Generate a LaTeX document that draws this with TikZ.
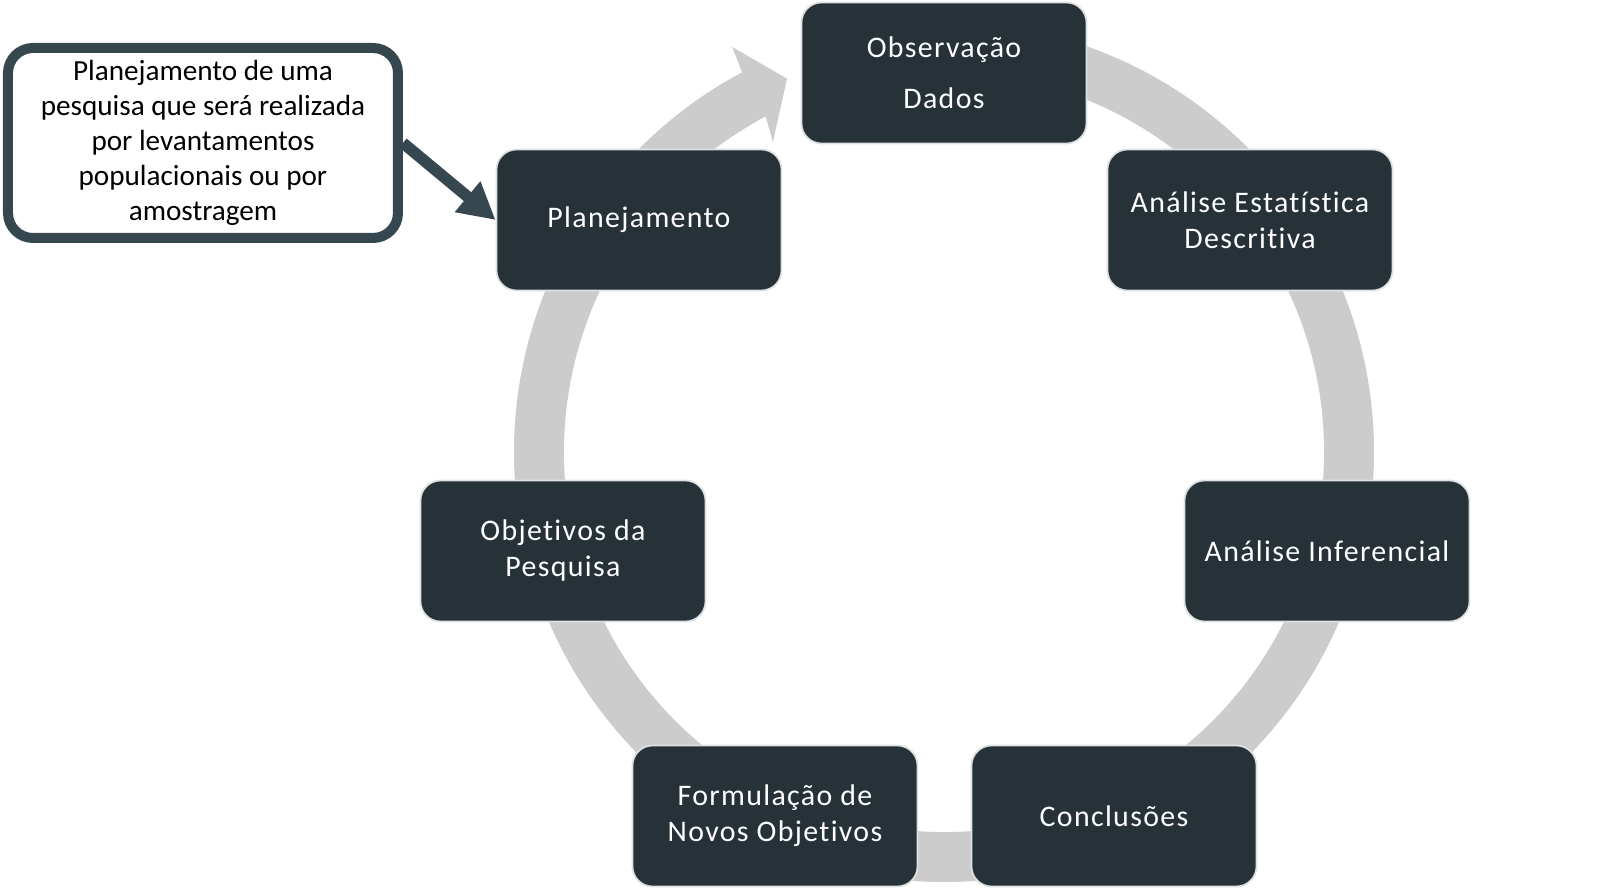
\documentclass[tikz,border=0pt]{standalone}
\usepackage{fontspec}
\setmainfont{Carlito}[Ligatures=NoCommon]
\newfontfamily\stagefont{Carlito}[LetterSpace=4.5, Ligatures=NoCommon]
\usetikzlibrary{arrows.meta,calc}
\definecolor{stagefill}{HTML}{263238}
\definecolor{noteline}{HTML}{37474F}
\definecolor{ringgray}{HTML}{CCCCCC}
\tikzset{
  stage/.style={rectangle, rounded corners=0.4cm, fill=stagefill, draw=white!85!stagefill,
    line width=1pt, minimum width=5.7cm, minimum height=2.82cm, text=white,
    align=center, font=\stagefont\fontsize{17}{20.5}\selectfont},
  notebox/.style={rectangle, rounded corners=0.5cm, fill=white, draw=noteline,
    line width=0.2cm, minimum width=7.8cm, minimum height=3.8cm,
    align=center, font=\fontsize{16.6}{20}\selectfont}
}

\begin{document}
\begin{tikzpicture}
\useasboundingbox (-18.88,9.04) rectangle (13.36,-8.74);
	\begin{scope}
\pgfmathsetmacro{\outer}{8.6}
\pgfmathsetmacro{\inner}{7.6}
\pgfmathsetmacro{\tipend}{-247.2}
    % ring with its head just left of the top box
    \fill[ringgray] (90:\outer) arc[start angle=90, end angle=-242, radius=\outer]
      -- (-242.4:9.14) -- (\tipend:8.1) -- (-241.1:7.08) -- (-242:\inner)
      arc[start angle=-242, end angle=90, radius=\inner] -- cycle;
	\end{scope}

    \node[stage] (obs) at (0,7.58) {Observação\\[0.3cm]Dados};
    \node[stage] (descr) at (6.12,4.64) {Análise Estatística\\Descritiva};
    \node[stage] (infer) at (7.66,-1.98) {Análise Inferencial};
    \node[stage] (concl) at (3.4,-7.28) {Conclusões};
    \node[stage] (newobj) at (-3.38,-7.28) {Formulação de\\Novos Objetivos};
    \node[stage] (obj) at (-7.62,-1.98) {Objetivos da\\Pesquisa};
    \node[stage] (plan) at (-6.1,4.64) {Planejamento};

    \node[notebox] (note) at (-14.82,6.18) {Planejamento de uma\\pesquisa que será realizada\\por levantamentos\\populacionais ou por\\amostragem};
    \draw[noteline, line width=0.23cm, -{Triangle[length=0.73cm, width=0.75cm]}] (note.east) -- (plan.west);
	\end{tikzpicture}
\end{document}
